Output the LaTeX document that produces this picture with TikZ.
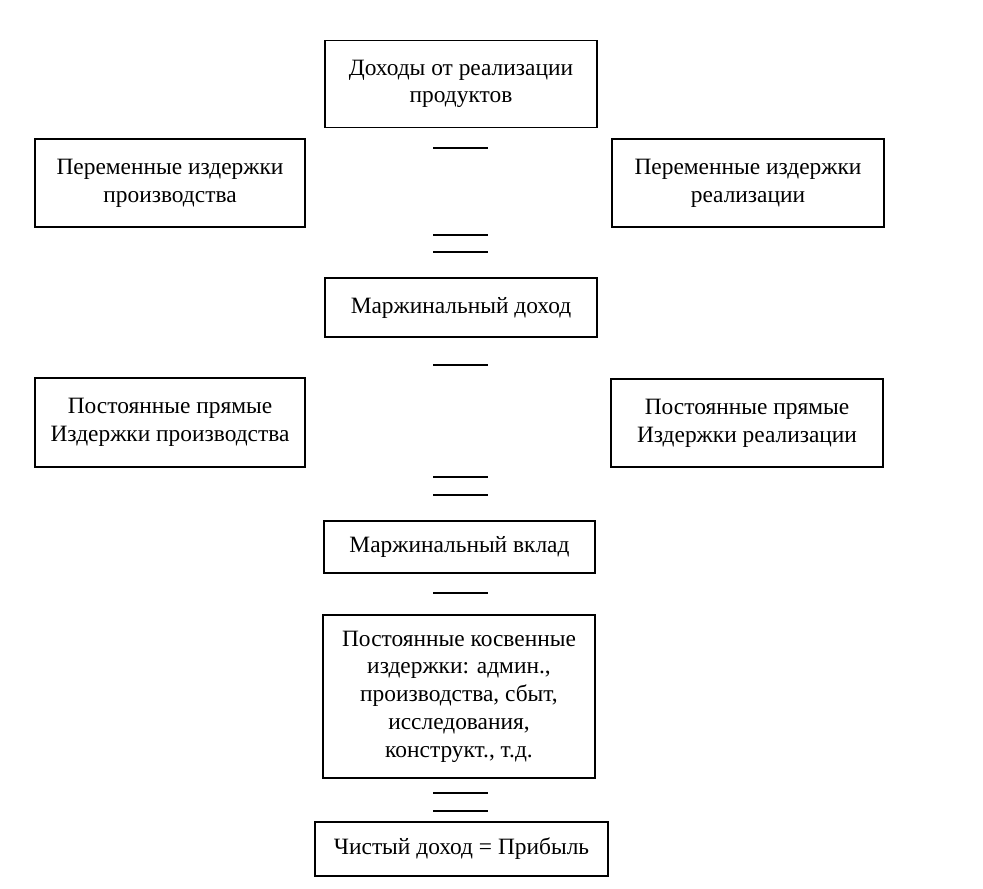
\documentclass[tikz,border=0pt]{standalone}
\usepackage{fontspec}
\setmainfont{Liberation Serif}
\begin{document}
\begin{tikzpicture}[x=1pt,y=-1pt,
  box/.style={draw=black, line width=1.8pt, rectangle, align=center, inner sep=0pt,
    font=\fontsize{23.4}{27.7}\selectfont},
  sign/.style={draw=black, line width=1.8pt}]
\useasboundingbox (0,0) rectangle (983,889);
\node[box, minimum width=272pt, minimum height=87pt] (rev) at (461,84) {Доходы от реализации\\продуктов};
\node[box, minimum width=270pt, minimum height=88pt] (vpl) at (170,183) {Переменные издержки\\производства};
\node[box, minimum width=272pt, minimum height=88pt] (vpr) at (748,183) {Переменные издержки\\реализации};
\node[box, minimum width=272pt, minimum height=59pt] (md) at (461,307.5) {Маржинальный доход};
\node[box, minimum width=270pt, minimum height=89pt] (fpl) at (170,422.5) {Постоянные прямые\\Издержки производства};
\node[box, minimum width=272pt, minimum height=88pt] (fpr) at (747,423) {Постоянные прямые\\Издержки реализации};
\node[box, minimum width=271pt, minimum height=52pt] (mv) at (459.5,547) {Маржинальный вклад};
\node[box, minimum width=272pt, minimum height=163pt] (pk) at (459,696.5) {Постоянные косвенные\\издержки: админ.,\\производства, сбыт,\\исследования,\\конструкт., т.д.};
\node[box, minimum width=293pt, minimum height=54pt] (cd) at (461.5,849) {Чистый доход = Прибыль};
% minus signs
\coordinate (m1a) at (433,148); \coordinate (m1b) at (488,148);
\coordinate (m2a) at (433,365); \coordinate (m2b) at (488,365);
\coordinate (m3a) at (433,593); \coordinate (m3b) at (488,593);
\draw[sign] (m1a) -- (m1b);
\draw[sign] (m2a) -- (m2b);
\draw[sign] (m3a) -- (m3b);
% equals signs
\coordinate (e1a) at (433,235); \coordinate (e1b) at (488,235);
\coordinate (e1c) at (433,252); \coordinate (e1d) at (488,252);
\coordinate (e2a) at (433,477); \coordinate (e2b) at (488,477);
\coordinate (e2c) at (433,495); \coordinate (e2d) at (488,495);
\coordinate (e3a) at (433,793); \coordinate (e3b) at (488,793);
\coordinate (e3c) at (433,811); \coordinate (e3d) at (488,811);
\draw[sign] (e1a) -- (e1b); \draw[sign] (e1c) -- (e1d);
\draw[sign] (e2a) -- (e2b); \draw[sign] (e2c) -- (e2d);
\draw[sign] (e3a) -- (e3b); \draw[sign] (e3c) -- (e3d);
\end{tikzpicture}
\end{document}
